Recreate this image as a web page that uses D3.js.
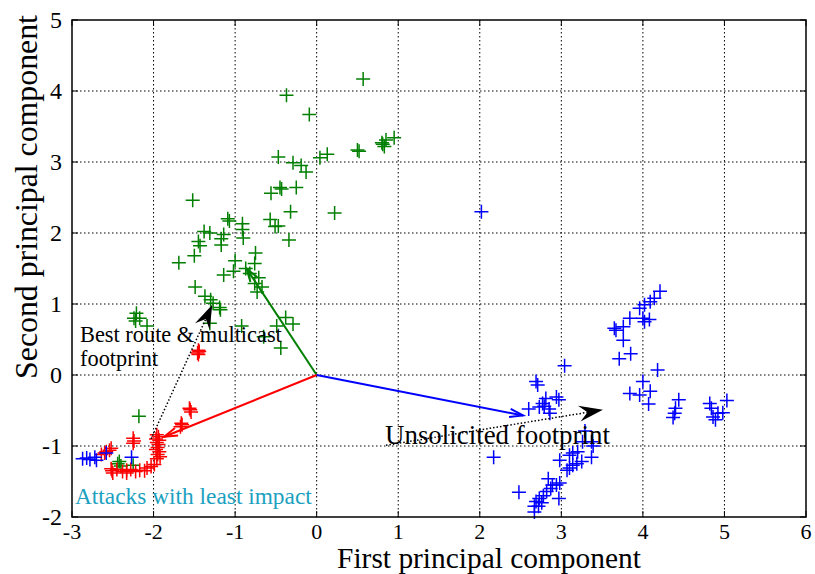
<!DOCTYPE html>
<html><head><meta charset="utf-8">
<script src="https://cdn.jsdelivr.net/npm/d3@7"></script>
<style>body{margin:0;background:#fff}svg{display:block}</style>
</head><body>
<svg id="c" width="815" height="574"></svg>
<script>
const xTicks = [-3,-2,-1,0,1,2,3,4,5,6];
const yTicks = [-2,-1,0,1,2,3,4,5];

const greenPts = [
 [0.57,4.17],[-0.37,3.94],[-0.09,3.67],[-0.47,3.07],[-0.29,2.99],[-0.19,2.95],[-0.13,2.86],
 [0.04,3.06],[0.13,3.11],[0.50,3.17],[0.52,3.15],[0.81,3.25],[0.85,3.31],[0.95,3.34],[0.80,3.27],[0.83,3.22],
 [-1.52,2.46],[-0.56,2.56],[-0.43,2.62],[-0.25,2.64],[-0.45,2.64],[0.22,2.28],[-0.32,2.30],
 [-0.57,2.19],[-0.51,2.09],[-0.47,2.10],[-0.34,1.90],[-1.09,2.20],[-1.07,2.17],[-0.91,2.13],
 [-0.91,2.05],[-0.90,1.93],[-1.38,2.02],[-1.31,2.00],[-1.14,1.98],[-1.17,1.92],[-1.17,1.83],
 [-1.45,1.88],[-1.43,1.82],[-1.50,1.68],[-1.69,1.58],[-0.75,1.72],[-0.76,1.57],[-1.00,1.61],
 [-0.87,1.50],[-0.82,1.43],[-1.02,1.46],[-1.14,1.41],[-0.71,1.37],[-0.76,1.29],[-0.67,1.24],
 [-0.73,1.17],[-1.49,1.24],[-1.37,1.11],[-1.30,1.06],[-1.27,1.01],[-1.19,0.95],[-1.18,0.92],
 [-1.31,0.73],[-0.92,0.69],[-0.38,0.81],[-0.29,0.72],[-0.49,0.69],[-0.65,0.54],[-0.44,0.38],
 [-2.21,0.87],[-2.17,0.80],[-2.22,0.76],[-2.24,0.80],[-2.08,0.69],[-2.18,-0.58],
 [-2.42,-1.22],[-2.25,-1.27],[-2.44,-1.25],[-2.40,-1.28]
];

const redPts = [
 [-1.45,0.35],[-1.46,0.31],[-1.44,0.33],[-1.45,0.29],
 [-1.56,-0.47],[-1.54,-0.52],[-1.55,-0.49],[-1.66,-0.68],[-1.67,-0.73],[-1.65,-0.70],
 [-2.25,-0.89],[-2.25,-0.96],[-2.24,-0.93],
 [-1.96,-0.84],[-1.94,-0.87],[-1.97,-0.90],[-1.93,-0.92],[-1.96,-0.95],[-1.94,-0.98],
 [-1.95,-1.02],[-1.97,-1.05],[-1.93,-1.08],[-1.95,-1.12],[-1.92,-1.15],[-1.96,-1.18],
 [-1.99,-1.26],[-2.03,-1.29],[-2.08,-1.31],[-2.11,-1.35],[-2.17,-1.34],[-2.22,-1.36],
 [-2.28,-1.33],[-2.33,-1.34],[-2.33,-1.38],[-2.38,-1.36],[-2.45,-1.33],[-2.50,-1.38],
 [-2.51,-1.35],[-2.52,-1.32],
 [-2.52,-1.03],[-2.54,-1.06],[-2.58,-1.08],[-2.64,-1.12],[-2.60,-1.10]
];

const bluePts = [
 [-2.87,-1.18],[-2.82,-1.17],[-2.78,-1.19],[-2.72,-1.16],[-2.70,-1.20],[-2.58,-1.10],[-2.27,-1.16],
 [2.02,2.30],
 [3.04,0.13],[2.69,-0.09],[2.71,-0.14],[2.81,-0.33],[2.77,-0.40],[2.60,-0.48],[2.73,-0.45],
 [2.85,-0.48],[2.86,-0.54],[2.94,-0.31],[2.97,-0.35],[2.79,-0.44],
 [3.29,-0.79],[3.26,-0.94],[3.37,-0.94],[3.39,-1.00],[3.20,-1.08],[3.14,-1.10],[3.10,-1.13],
 [2.98,-1.20],[3.37,-1.16],[3.25,-1.22],[3.19,-1.25],[3.14,-1.27],[3.10,-1.31],[3.07,-1.34],
 [2.94,-1.55],[2.98,-1.52],[2.89,-1.55],[2.84,-1.46],[2.87,-1.60],[2.82,-1.64],[2.78,-1.70],
 [2.73,-1.74],[2.69,-1.78],[2.67,-1.85],[2.72,-1.85],[2.76,-1.80],[2.67,-1.93],[2.48,-1.65],
 [2.97,-1.74],[2.17,-1.16],
 [4.21,1.18],[4.14,1.08],[4.09,1.03],[4.02,0.99],[3.96,0.94],[3.84,0.80],[4.00,0.80],
 [4.02,0.75],[4.08,0.78],[3.65,0.66],[3.67,0.63],[3.76,0.68],[3.76,0.49],[3.71,0.23],
 [3.85,0.30],[4.18,0.07],[4.00,-0.09],[3.84,-0.26],[3.96,-0.28],[4.09,-0.23],[4.07,-0.41],
 [4.44,-0.35],[4.40,-0.47],[4.39,-0.54],[4.37,-0.60],[4.82,-0.40],[4.84,-0.47],[4.86,-0.59],
 [4.92,-0.54],[4.98,-0.53],[5.03,-0.36],[4.89,-0.63]
];

const loadingArrows = [
 {dx:-0.86, dy:1.50, color:"#007f00"},
 {dx:-1.87, dy:-0.87, color:"#ff0000"},
 {dx:2.53, dy:-0.57, color:"#0000ff"}
];

const annotArrows = [
 {x1:-2.03, y1:-0.90, x2:-1.28, y2:0.99},
 {x1:0.85, y1:-0.99, x2:3.51, y2:-0.49}
];

const svg = d3.select("#c");
const L=72, R=806, T=20, B=517;
const x = d3.scaleLinear().domain([-3,6]).range([L,R]);
const y = d3.scaleLinear().domain([-2,5]).range([B,T]);

const serif = "'Liberation Serif', 'Times New Roman', serif";

// grid
const g = svg.append("g");
g.selectAll(".gx").data(xTicks.slice(1,-1)).enter().append("line")
 .attr("x1",d=>x(d)).attr("x2",d=>x(d)).attr("y1",T).attr("y2",B)
 .attr("stroke","#000").attr("stroke-width",1).attr("stroke-dasharray","1.5,2.5");
g.selectAll(".gy").data(yTicks.slice(1,-1)).enter().append("line")
 .attr("y1",d=>y(d)).attr("y2",d=>y(d)).attr("x1",L).attr("x2",R)
 .attr("stroke","#000").attr("stroke-width",1).attr("stroke-dasharray","1.5,2.5");

// markers
function plus(sel, pts, color){
  const s = 7;
  sel.selectAll(null).data(pts).enter().append("path")
   .attr("d",d=>{const px=x(d[0]),py=y(d[1]);return `M${px-s},${py}H${px+s}M${px},${py-s}V${py+s}`;})
   .attr("stroke",color).attr("stroke-width",1.5).attr("fill","none");
}
plus(svg.append("g"), greenPts, "#007f00");
plus(svg.append("g"), redPts, "#ff0000");
plus(svg.append("g"), bluePts, "#0000ff");

// loading arrows (quiver-like)
loadingArrows.forEach(a=>{
  const x0=x(0),y0=y(0),x1=x(a.dx),y1=y(a.dy);
  svg.append("line").attr("x1",x0).attr("y1",y0).attr("x2",x1).attr("y2",y1)
    .attr("stroke",a.color).attr("stroke-width",2);
  const ang=Math.atan2(y1-y0,x1-x0), hl=14, hw=0.3;
  const p1=[x1-hl*Math.cos(ang-hw), y1-hl*Math.sin(ang-hw)];
  const p2=[x1-hl*Math.cos(ang+hw), y1-hl*Math.sin(ang+hw)];
  svg.append("path").attr("d",`M${p1}L${x1},${y1}L${p2}`)
    .attr("stroke",a.color).attr("stroke-width",2).attr("fill","none");
});

// annotation arrows
annotArrows.forEach(a=>{
  const xa=x(a.x1),ya=y(a.y1),xb=x(a.x2),yb=y(a.y2);
  const ang=Math.atan2(yb-ya,xb-xa);
  const Lh=24,W=8;
  svg.append("line").attr("x1",xa).attr("y1",ya)
    .attr("x2",xb-Lh*0.6*Math.cos(ang)).attr("y2",yb-Lh*0.6*Math.sin(ang))
    .attr("stroke","#000").attr("stroke-width",1.5).attr("stroke-dasharray","1.5,2");
  svg.append("path")
    .attr("d",`M0,0L${-Lh},${-W}L${-Lh*0.65},0L${-Lh},${W}Z`)
    .attr("transform",`translate(${xb},${yb}) rotate(${ang*180/Math.PI})`)
    .attr("fill","#000");
});

// box and ticks
svg.append("rect").attr("x",L).attr("y",T).attr("width",R-L).attr("height",B-T)
  .attr("fill","none").attr("stroke","#000").attr("stroke-width",1.5);
const tk=6;
xTicks.forEach(t=>{
  svg.append("line").attr("x1",x(t)).attr("x2",x(t)).attr("y1",B).attr("y2",B-tk).attr("stroke","#000");
  svg.append("line").attr("x1",x(t)).attr("x2",x(t)).attr("y1",T).attr("y2",T+tk).attr("stroke","#000");
});
yTicks.forEach(t=>{
  svg.append("line").attr("y1",y(t)).attr("y2",y(t)).attr("x1",L).attr("x2",L+tk).attr("stroke","#000");
  svg.append("line").attr("y1",y(t)).attr("y2",y(t)).attr("x1",R).attr("x2",R-tk).attr("stroke","#000");
});

// tick labels
svg.append("g").selectAll("text").data(xTicks).enter().append("text")
  .attr("x",d=>x(d)).attr("y",B+22).attr("text-anchor","middle")
  .attr("font-family",serif).attr("font-size",22).text(d=>d);
svg.append("g").selectAll("text").data(yTicks).enter().append("text")
  .attr("x",L-10).attr("y",d=>y(d)+8).attr("text-anchor","end")
  .attr("font-family",serif).attr("font-size",24).text(d=>d);

function fit(sel, w){
  const n=sel.node(); const len=n.getComputedTextLength();
  const fs=parseFloat(sel.attr("font-size"));
  sel.attr("font-size", fs*w/len);
}

// axis labels
fit(svg.append("text").attr("x",489).attr("y",568).attr("text-anchor","middle")
  .attr("font-family",serif).attr("font-size",22).text("First principal component"),304);
fit(svg.append("text").attr("transform","translate(37,197) rotate(-90)").attr("text-anchor","middle")
  .attr("font-family",serif).attr("font-size",22).text("Second principal component"),364);

// annotations
const best = svg.append("text").attr("font-family",serif).attr("font-size",17);
const t1 = best.append("tspan").attr("x",80).attr("y",342).text("Best route & multicast");
const len1 = t1.node().getComputedTextLength();
best.attr("font-size", 17*202/len1);
best.append("tspan").attr("x",80).attr("y",366).text("footprint");

fit(svg.append("text").attr("x",385).attr("y",444).attr("font-family",serif).attr("font-size",17)
  .text("Unsolicited footprint"),225);
fit(svg.append("text").attr("x",75).attr("y",504).attr("font-family",serif).attr("font-size",17)
  .attr("fill","#1ba1bf").text("Attacks with least impact"),237);
</script>
</body></html>
